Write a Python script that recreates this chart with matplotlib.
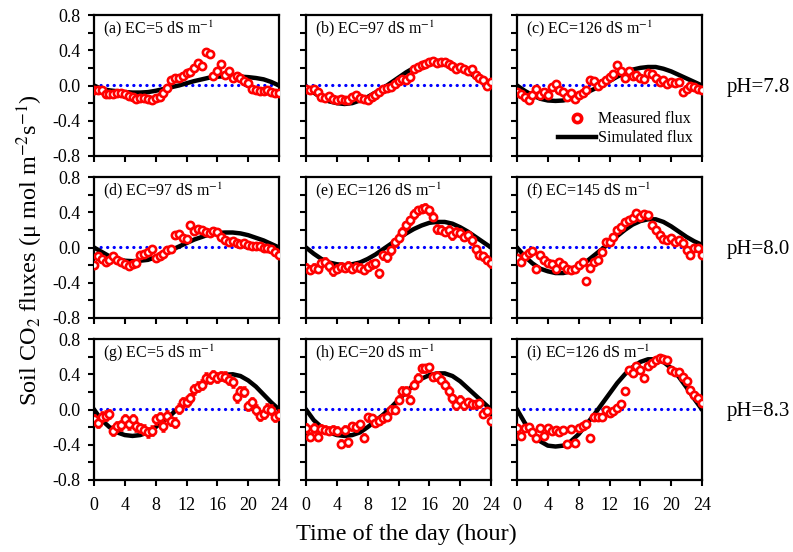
import numpy as np
import matplotlib
matplotlib.use("Agg")
import matplotlib.pyplot as plt
from matplotlib.lines import Line2D

plt.rcParams["font.family"] = ["Liberation Serif", "DejaVu Serif"]
plt.rcParams["mathtext.fontset"] = "stix"

# measured flux every half hour, 0..24 h
hours = np.arange(0, 24.5, 0.5)
# simulated flux, hourly
sim_hours = np.arange(0, 25, 1)

panel_labels = [
    "(a) EC=5 dS m$^{-1}$", "(b) EC=97 dS m$^{-1}$", "(c) EC=126 dS m$^{-1}$",
    "(d) EC=97 dS m$^{-1}$", "(e) EC=126 dS m$^{-1}$", "(f) EC=145 dS m$^{-1}$",
    "(g) EC=5 dS m$^{-1}$", "(h) EC=20 dS m$^{-1}$", "(i) EC=126 dS m$^{-1}$",
]
ph_labels = ["pH=7.8", "pH=8.0", "pH=8.3"]

meas_a = [-0.05, -0.05, -0.05, -0.10, -0.10, -0.10, -0.09, -0.09, -0.10, -0.12, -0.13, -0.15,
          -0.14, -0.14, -0.15, -0.17, -0.14, -0.13, -0.09, -0.03, 0.06, 0.09, 0.09, 0.11,
          0.14, 0.15, 0.20, 0.26, 0.22, 0.38, 0.36, 0.11, 0.16, 0.24, 0.12, 0.16,
          0.08, 0.11, 0.09, 0.05, 0.03, -0.04, -0.05, -0.06, -0.06, -0.05, -0.07, -0.09, -0.09]
meas_b = [-0.045, -0.05, -0.045, -0.07, -0.13, -0.14, -0.12, -0.15, -0.16, -0.15, -0.17, -0.16,
          -0.13, -0.11, -0.14, -0.15, -0.16, -0.13, -0.11, -0.07, -0.045, -0.03, -0.015, 0.02,
          0.05, 0.07, 0.06, 0.10, 0.19, 0.21, 0.23, 0.24, 0.27, 0.28, 0.26, 0.27,
          0.27, 0.24, 0.22, 0.19, 0.21, 0.19, 0.17, 0.19, 0.12, 0.08, 0.06, 0.0, 0.04]
meas_c = [-0.07, -0.10, -0.13, -0.17, -0.11, -0.035, -0.11, -0.07, -0.11, -0.02, 0.02, -0.05,
          -0.07, -0.13, -0.09, -0.15, -0.11, -0.09, -0.05, 0.06, 0.05, 0.0, 0.03, 0.06,
          0.10, 0.13, 0.23, 0.16, 0.08, 0.17, 0.11, 0.12, 0.09, 0.07, 0.14, 0.13,
          0.08, 0.04, 0.06, 0.02, 0.04, 0.03, 0.04, -0.07, -0.045, 0.0, -0.02, -0.045, -0.05]
meas_d = [-0.20, -0.10, -0.13, -0.16, -0.14, -0.10, -0.14, -0.16, -0.19, -0.21, -0.19, -0.18,
          -0.09, -0.07, -0.05, -0.02, -0.12, -0.10, -0.07, -0.03, -0.02, 0.14, 0.15, 0.11,
          0.10, 0.26, 0.19, 0.21, 0.20, 0.18, 0.17, 0.19, 0.18, 0.12, 0.08, 0.06,
          0.07, 0.05, 0.04, 0.05, 0.03, 0.02, 0.02, 0.02, 0.0, -0.01, -0.02, -0.05, -0.08]
meas_e = [-0.23, -0.25, -0.23, -0.24, -0.18, -0.16, -0.21, -0.27, -0.24, -0.22, -0.23, -0.21,
          -0.24, -0.22, -0.23, -0.25, -0.22, -0.19, -0.18, -0.29, -0.09, -0.11, -0.03, 0.06,
          0.11, 0.18, 0.25, 0.31, 0.38, 0.42, 0.44, 0.45, 0.42, 0.35, 0.21, 0.20,
          0.18, 0.20, 0.14, 0.18, 0.17, 0.12, 0.14, 0.08, -0.02, -0.08, -0.10, -0.14, -0.18]
meas_f = [-0.12, -0.16, -0.10, -0.06, -0.04, -0.24, -0.09, -0.14, -0.18, -0.19, -0.24, -0.17,
          -0.20, -0.24, -0.26, -0.24, -0.20, -0.16, -0.38, -0.23, -0.16, -0.14, -0.05, 0.06,
          0.06, 0.12, 0.20, 0.23, 0.29, 0.31, 0.33, 0.39, 0.35, 0.38, 0.37, 0.25,
          0.20, 0.14, 0.10, 0.08, 0.11, 0.06, 0.08, 0.05, -0.03, -0.08, 0.0, -0.01, -0.08]
meas_g = [-0.11, -0.15, -0.08, -0.07, -0.05, -0.24, -0.19, -0.18, -0.11, -0.17, -0.11, -0.19,
          -0.21, -0.23, -0.26, -0.24, -0.11, -0.09, -0.19, -0.07, -0.13, -0.15, 0.01, 0.08,
          0.09, 0.13, 0.23, 0.26, 0.28, 0.36, 0.35, 0.39, 0.36, 0.38, 0.37, 0.34,
          0.31, 0.14, 0.21, 0.20, 0.04, 0.08, 0.0, -0.07, -0.05, 0.01, 0.0, -0.08, -0.06]
meas_h = [-0.21, -0.31, -0.21, -0.31, -0.22, -0.23, -0.24, -0.23, -0.24, -0.39, -0.23, -0.37,
          -0.19, -0.20, -0.17, -0.32, -0.09, -0.10, -0.15, -0.13, -0.10, -0.08, 0.0, 0.0,
          0.11, 0.21, 0.21, 0.11, 0.28, 0.36, 0.47, 0.47, 0.48, 0.37, 0.38, 0.34,
          0.28, 0.21, 0.13, 0.05, 0.11, 0.05, 0.08, 0.06, 0.06, 0.07, -0.05, -0.02, -0.13]
meas_i = [-0.21, -0.30, -0.21, -0.20, -0.26, -0.32, -0.21, -0.30, -0.21, -0.24, -0.23, -0.26,
          -0.23, -0.39, -0.22, -0.38, -0.21, -0.19, -0.17, -0.32, -0.09, -0.09, -0.08, 0.0,
          -0.04, -0.02, 0.02, 0.06, 0.21, 0.45, 0.41, 0.49, 0.45, 0.36, 0.49, 0.53,
          0.56, 0.58, 0.57, 0.56, 0.45, 0.42, 0.43, 0.37, 0.32, 0.22, 0.17, 0.13, 0.07]

sim_a = [0.0, -0.04, -0.055, -0.065, -0.075, -0.08, -0.08, -0.075, -0.06, -0.04, -0.02, 0.0, 0.025,
         0.05, 0.07, 0.09, 0.10, 0.105, 0.105, 0.10, 0.095, 0.085, 0.07, 0.04, 0.0]
sim_b = [-0.03, -0.08, -0.14, -0.18, -0.20, -0.21, -0.20, -0.17, -0.13, -0.08, -0.03, 0.03, 0.09,
         0.15, 0.20, 0.24, 0.27, 0.28, 0.27, 0.24, 0.20, 0.15, 0.10, 0.05, 0.0]
sim_c = [0.0, -0.06, -0.11, -0.15, -0.17, -0.175, -0.17, -0.15, -0.12, -0.08, -0.04, 0.0, 0.05,
         0.10, 0.14, 0.18, 0.20, 0.21, 0.21, 0.19, 0.16, 0.12, 0.08, 0.04, 0.0]
sim_d = [0.0, -0.05, -0.10, -0.13, -0.15, -0.155, -0.15, -0.14, -0.11, -0.07, -0.03, 0.01, 0.05,
         0.09, 0.12, 0.15, 0.165, 0.17, 0.17, 0.16, 0.14, 0.11, 0.08, 0.04, 0.0]
sim_e = [0.0, -0.07, -0.13, -0.17, -0.19, -0.20, -0.19, -0.17, -0.13, -0.08, -0.02, 0.04, 0.10,
         0.16, 0.21, 0.25, 0.28, 0.29, 0.29, 0.27, 0.23, 0.18, 0.12, 0.06, 0.0]
sim_f = [0.0, -0.10, -0.18, -0.24, -0.27, -0.29, -0.29, -0.27, -0.22, -0.16, -0.09, -0.02, 0.05,
         0.13, 0.20, 0.26, 0.30, 0.32, 0.32, 0.29, 0.24, 0.18, 0.12, 0.07, 0.03]
sim_g = [0.0, -0.12, -0.20, -0.26, -0.29, -0.30, -0.29, -0.26, -0.20, -0.13, -0.06, 0.02, 0.10,
         0.19, 0.27, 0.33, 0.37, 0.395, 0.40, 0.38, 0.33, 0.26, 0.17, 0.08, 0.0]
sim_h = [0.0, -0.12, -0.20, -0.26, -0.29, -0.30, -0.29, -0.26, -0.20, -0.13, -0.06, 0.02, 0.11,
         0.20, 0.28, 0.35, 0.39, 0.41, 0.41, 0.38, 0.32, 0.24, 0.16, 0.08, 0.0]
sim_i = [0.0, -0.15, -0.27, -0.36, -0.41, -0.42, -0.41, -0.36, -0.28, -0.17, -0.06, 0.06, 0.18,
         0.30, 0.40, 0.48, 0.54, 0.57, 0.57, 0.54, 0.47, 0.37, 0.25, 0.12, 0.0]

# typical standard error of the measured flux in each panel
flux_err = [0.03, 0.03, 0.03, 0.03, 0.04, 0.02, 0.05, 0.04, 0.03]

measured = [meas_a, meas_b, meas_c, meas_d, meas_e, meas_f, meas_g, meas_h, meas_i]
simulated = [sim_a, sim_b, sim_c, sim_d, sim_e, sim_f, sim_g, sim_h, sim_i]

W, H = 793, 552
fig = plt.figure(figsize=(W / 100, H / 100), dpi=100)

col_left = [94, 306, 517]
row_top = [15, 177, 339]
ax_w, ax_h = 185, 141

axes = []
for k in range(9):
    r, c = divmod(k, 3)
    ax = fig.add_axes([col_left[c] / W, 1 - (row_top[r] + ax_h) / H, ax_w / W, ax_h / H])
    axes.append(ax)

    ax.plot([0, 24], [0.01, 0.01], color="blue", lw=2.3, linestyle=(0, (0.05, 2.0)),
            dash_capstyle="round", zorder=1)
    ax.plot(sim_hours, simulated[k], color="black", lw=3.2, zorder=2)
    ax.errorbar(hours, measured[k], yerr=flux_err[k], fmt="o", ms=5.2, mfc="white", mec="red",
                mew=1.9, ecolor="red", elinewidth=1, capsize=1.5, zorder=3)

    ax.set_xlim(0, 24)
    ax.set_ylim(-0.8, 0.8)
    ax.set_xticks(range(0, 25, 4))
    ax.set_yticks([-0.8, -0.4, 0.0, 0.4, 0.8])
    ax.set_yticks([-0.6, -0.2, 0.2, 0.6], minor=True)
    ax.tick_params(which="both", direction="out", width=1.5, length=4.5, labelsize=13)
    ax.tick_params(axis="x", pad=8)
    ax.tick_params(axis="y", pad=5)
    for sp in ax.spines.values():
        sp.set_linewidth(1.6)
    if c == 0:
        ax.set_yticklabels(["-0.8", "-0.4", "0.0", "0.4", "0.8"])
    else:
        ax.set_yticklabels([])
    if r < 2:
        ax.set_xticklabels([])

    ax.text(0.05, 0.9, panel_labels[k], transform=ax.transAxes, fontsize=11.5, va="center")

leg_handles = [
    Line2D([], [], ls="none", marker="o", ms=6, mfc="white", mec="red", mew=2.6),
    Line2D([], [], color="black", lw=3.2),
]
axes[2].legend(leg_handles, ["Measured flux", "Simulated flux"], loc="lower right",
               frameon=False, fontsize=11.5, handlelength=2.4, handletextpad=0.1,
               borderaxespad=0.2, labelspacing=0.2)

for r in range(3):
    fig.text(758 / W, 1 - (row_top[r] + ax_h / 2 + 2) / H, ph_labels[r], fontsize=15,
             ha="center", va="center")

fig.text(30 / W, 1 - 250 / H, "Soil CO$_2$ fluxes (μ mol m$^{-2}$s$^{-1}$)", fontsize=17.5,
         rotation=90, ha="center", va="center")
fig.text(406 / W, 1 - 534 / H, "Time of the day (hour)", fontsize=17.5, ha="center",
         va="center")

fig.savefig("out.png", dpi=100)
